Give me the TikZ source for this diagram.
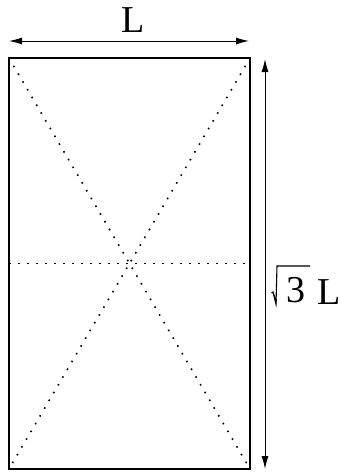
\documentclass[tikz,border=0pt]{standalone}
\usepackage{fontspec}
\setmainfont{Liberation Serif}
\usetikzlibrary{arrows.meta}
\begin{document}
\begin{tikzpicture}[x=1pt,y=-1pt,
  frame/.style={line width=2.6pt, line join=miter},
  guide/.style={line width=1.6pt, dash pattern=on 1.6pt off 7.4pt},
  dimline/.style={line width=1pt, {Latex[length=13pt,width=7pt]}-{Latex[length=13pt,width=7pt]}},
  radical/.style={line width=1.1pt, line join=miter},
  lbl/.style={font=\rmfamily\fontsize{38}{40}\selectfont, inner sep=0pt}]
\useasboundingbox (0,0) rectangle (341,472);
\coordinate (tl) at (9,58);
\coordinate (tr) at (250,58);
\coordinate (bl) at (9,469);
\coordinate (br) at (250,469);
\coordinate (ml) at (9,263.5);
\coordinate (mr) at (250,263.5);
\draw[guide] (tl) -- (br);
\draw[guide] (tr) -- (bl);
\draw[guide] (ml) -- (mr);
\draw[frame] (tl) rectangle (br);
\coordinate (ha) at (9,41);
\coordinate (hb) at (249,41);
\draw[dimline] (ha) -- (hb);
\coordinate (va) at (265,59);
\coordinate (vb) at (265,469);
\draw[dimline] (va) -- (vb);
\node[lbl, anchor=base] (wl) at (133.5,32) {L};
% radical sign
\coordinate (r1) at (271.5,293);
\coordinate (r2) at (273,292);
\coordinate (r3) at (276,304);
\coordinate (r4) at (277,266);
\coordinate (r5) at (310,266);
\draw[radical] (r1) -- (r2) -- (r3) -- (r4) -- (r5);
\fill (r2) -- (r3) -- (276.8,300) -- cycle;
\node[lbl, anchor=base] (three) at (295.5,302) {3};
\node[lbl, anchor=base] (hl) at (329.5,304) {L};
\end{tikzpicture}
\end{document}
